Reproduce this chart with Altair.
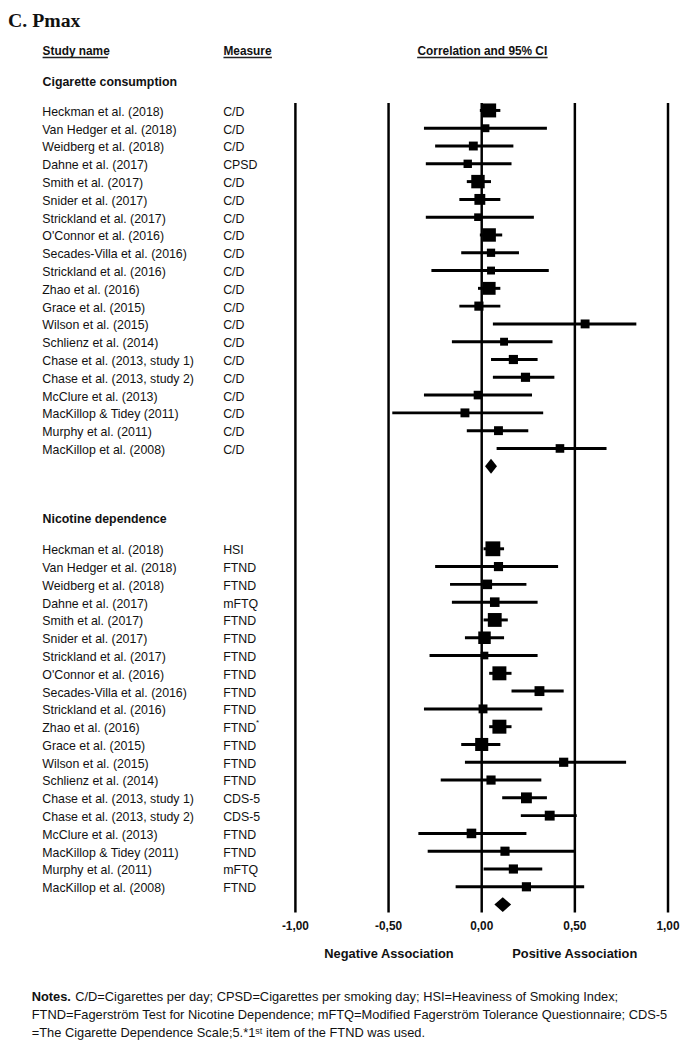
import altair as alt
import pandas as pd

# ---------------- data ----------------
studies = ["Heckman et al. (2018)", "Van Hedger et al.  (2018)", "Weidberg et al. (2018)",
           "Dahne et al. (2017)", "Smith et al. (2017)", "Snider et al. (2017)",
           "Strickland et al. (2017)", "O'Connor et al. (2016)", "Secades-Villa et al. (2016)",
           "Strickland et al. (2016)", "Zhao et al. (2016)", "Grace et al. (2015)",
           "Wilson et al. (2015)", "Schlienz et al. (2014)", "Chase et al. (2013, study 1)",
           "Chase et al. (2013, study 2)", "McClure et al. (2013)", "MacKillop & Tidey (2011)",
           "Murphy et al. (2011)", "MacKillop et al. (2008)"]

cig_measure = ["C/D", "C/D", "C/D", "CPSD", "C/D", "C/D", "C/D", "C/D", "C/D", "C/D",
               "C/D", "C/D", "C/D", "C/D", "C/D", "C/D", "C/D", "C/D", "C/D", "C/D"]
cig_r = [0.04, 0.02, -0.045, -0.075, -0.02, -0.01, -0.02, 0.04, 0.05, 0.05,
         0.04, -0.015, 0.555, 0.12, 0.17, 0.235, -0.02, -0.09, 0.09, 0.42]
cig_lo = [-0.01, -0.31, -0.25, -0.30, -0.08, -0.12, -0.30, -0.01, -0.11, -0.27,
          -0.02, -0.12, 0.06, -0.16, 0.05, 0.06, -0.31, -0.48, -0.08, 0.08]
cig_hi = [0.10, 0.35, 0.17, 0.16, 0.05, 0.10, 0.28, 0.11, 0.20, 0.36,
          0.10, 0.10, 0.83, 0.38, 0.30, 0.39, 0.27, 0.33, 0.25, 0.67]
cig_w = [200, 64, 81, 72, 185, 121, 60, 185, 70, 64, 170, 86, 81, 64, 86, 86, 76, 81, 81, 76]
cig_summary = [0.05, 0.018, 0.082]   # estimate, lower, upper

nic_measure = ["HSI", "FTND", "FTND", "mFTQ", "FTND", "FTND", "FTND", "FTND", "FTND", "FTND",
               "FTND", "FTND", "FTND", "FTND", "CDS-5", "CDS-5", "FTND", "FTND", "mFTQ", "FTND"]
nic_r = [0.06, 0.09, 0.03, 0.07, 0.07, 0.015, 0.015, 0.095, 0.31, 0.007,
         0.095, 0.0, 0.44, 0.05, 0.24, 0.365, -0.055, 0.125, 0.17, 0.24]
nic_lo = [0.01, -0.25, -0.17, -0.16, 0.01, -0.09, -0.28, 0.04, 0.16, -0.31,
          0.04, -0.11, -0.09, -0.22, 0.11, 0.21, -0.34, -0.29, 0.01, -0.14]
nic_hi = [0.12, 0.41, 0.24, 0.30, 0.14, 0.12, 0.30, 0.16, 0.44, 0.325,
          0.16, 0.10, 0.775, 0.32, 0.35, 0.51, 0.24, 0.50, 0.325, 0.55]
nic_w = [225, 86, 94, 94, 196, 160, 60, 200, 100, 81, 200, 175, 86, 86, 121, 100, 94, 86, 86, 86]
nic_summary = [0.113, 0.068, 0.158]

tick_values = [-1.0, -0.5, 0.0, 0.5, 1.0]
tick_labels = ["-1,00", "-0,50", "0,00", "0,50", "1,00"]

notes_1 = "C/D=Cigarettes per day; CPSD=Cigarettes per smoking day; HSI=Heaviness of Smoking Index;"
notes_2 = "FTND=Fagerström Test for Nicotine Dependence; mFTQ=Modified Fagerström Tolerance Questionnaire; CDS-5"
notes_3 = "=The Cigarette Dependence Scale;5.*1ˢᵗ item of the FTND was used."

# ---------------- tables ----------------
NIC_START = 24.64
rows = []
for i in range(len(studies)):
    rows.append(dict(row=i, study=studies[i], measure=cig_measure[i], r=cig_r[i],
                     lo=cig_lo[i], hi=cig_hi[i], w=cig_w[i]))
for i in range(len(studies)):
    rows.append(dict(row=NIC_START + i, study=studies[i], measure=nic_measure[i], r=nic_r[i],
                     lo=nic_lo[i], hi=nic_hi[i], w=nic_w[i]))
df = pd.DataFrame(rows)

HALF = 0.417
diam = []
for g, (est, lo, hi), rr in [("cig", cig_summary, len(studies)),
                             ("nic", nic_summary, NIC_START + len(studies))]:
    diam += [dict(g=g, x=lo, y1=rr, y2=rr), dict(g=g, x=est, y1=rr - HALF, y2=rr + HALF),
             dict(g=g, x=hi, y1=rr, y2=rr)]
ddf = pd.DataFrame(diam)
ticks = pd.DataFrame(dict(t=tick_values, lab=tick_labels))

W, H = 685, 1042
FONT = "Liberation Sans"
xs = alt.Scale(domain=[-2.5427, 1.0912], range=[0, W], nice=False, zero=False)
ys = alt.Scale(domain=[-5.4167, -5.4167 + H / 18.0], range=[0, H], nice=False, zero=False)

vlines = alt.Chart(ticks).mark_rule(color="black", strokeWidth=2.5).encode(
    x=alt.X("t:Q", scale=xs, axis=None), y=alt.value(90), y2=alt.value(909))

base = alt.Chart(df).encode(y=alt.Y("row:Q", scale=ys, axis=None))
ci = base.mark_rule(color="black", strokeWidth=3).encode(
    x=alt.X("lo:Q", scale=xs, axis=None), x2="hi:Q")
sq = base.mark_square(color="black", opacity=1, filled=True).encode(
    x=alt.X("r:Q", scale=xs, axis=None), size=alt.Size("w:Q", scale=None, legend=None))
names = base.mark_text(align="left", baseline="middle", font=FONT, fontSize=12.5, dy=1.5,
                       color="#111").encode(x=alt.value(34.7), text="study:N")
meas = base.mark_text(align="left", baseline="middle", font=FONT, fontSize=12.5, dy=1.5,
                      color="#111").encode(x=alt.value(217.7), text="measure:N")
star = alt.Chart(df[(df["study"] == "Zhao et al. (2016)") & (df["measure"] == "FTND")]).mark_text(
    align="left", baseline="middle", font=FONT, fontSize=8, dy=-4, color="#111").encode(
    y=alt.Y("row:Q", scale=ys, axis=None), x=alt.value(251), text=alt.value("*"))

diamond = alt.Chart(ddf).mark_area(color="black", opacity=1, interpolate="linear").encode(
    x=alt.X("x:Q", scale=xs, axis=None), y=alt.Y("y1:Q", scale=ys, axis=None), y2="y2:Q",
    detail="g:N")

tlabels = alt.Chart(ticks).mark_text(font=FONT, fontSize=12, fontWeight="bold",
                                     baseline="middle", color="#111").encode(
    x=alt.X("t:Q", scale=xs, axis=None), y=alt.value(923), text="lab:N")

def txt(s, x, y, size=12, weight="normal", align="left", font=FONT):
    return alt.Chart(pd.DataFrame({"s": [s]})).mark_text(
        align=align, baseline="middle", font=font, fontSize=size, fontWeight=weight,
        color="#111").encode(x=alt.value(x), y=alt.value(y), text="s:N")

def uline(x1, x2, y):
    return alt.Chart(pd.DataFrame({"a": [0]})).mark_rule(color="#222", strokeWidth=1.5).encode(
        x=alt.value(x1), x2=alt.value(x2), y=alt.value(y))

layers = [
    vlines, ci, sq, diamond, names, meas, star, tlabels,
    txt("C. Pmax", 0, 7, size=20, weight="bold", font="Liberation Serif"),
    txt("Study name", 35, 37, weight="bold"), uline(35, 101, 44),
    txt("Measure", 218, 37, weight="bold"), uline(218, 267, 44),
    txt("Correlation and 95% CI", 480, 37, weight="bold", align="center"), uline(414, 546, 44),
    txt("Cigarette consumption", 35, 69, size=12.5, weight="bold"),
    txt("Nicotine dependence", 35, 511, size=12.5, weight="bold"),
    txt("Negative Association", 385.5, 951, size=13, weight="bold", align="center"),
    txt("Positive Association", 573.5, 951, size=13, weight="bold", align="center"),
    txt("Notes.", 24, 995, size=13, weight="bold"),
    txt(notes_1, 68, 995, size=13),
    txt(notes_2, 24, 1013, size=13),
    txt(notes_3, 24, 1031, size=13),
]

chart = alt.layer(*layers).properties(
    width=W, height=H, autosize=alt.AutoSizeParams(type="none"), padding=0
).configure_view(stroke=None)

chart.save("out.html", embed_options={"renderer": "svg", "actions": False})
